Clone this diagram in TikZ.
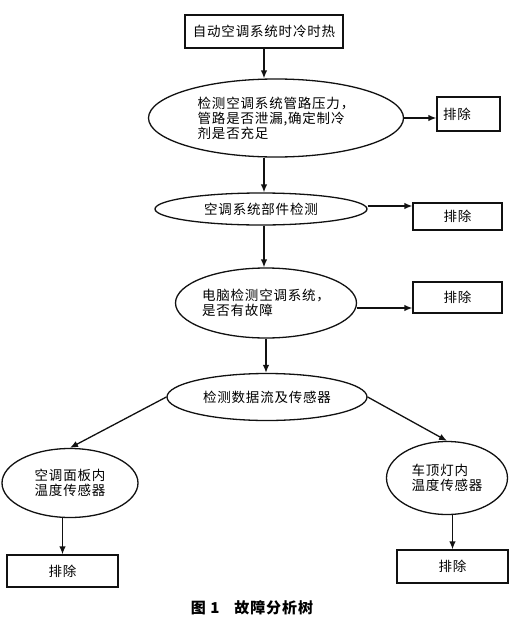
\documentclass[tikz,border=0pt]{standalone}
\usepackage{fontspec}
\setmainfont{Noto Sans CJK SC}[LetterSpace=6]
\usepackage{tikz}
\usetikzlibrary{positioning,calc,shapes.geometric,arrows.meta}
\definecolor{InkBlack}{HTML}{111111}
\newcommand{\cn}{\fontsize{13.5}{15}\selectfont}

\begin{document}
\begin{tikzpicture}[x=1pt, y=-1pt,
    stepbox/.style={draw=InkBlack, line width=1.3pt, rectangle, inner sep=0pt, font=\cn},
    checkoval/.style={draw=InkBlack, line width=1.3pt, ellipse, inner sep=0pt, font=\cn, align=left},
    flow/.style={-{Latex[length=8pt,width=6.5pt]}, draw=InkBlack, line width=1.3pt}]
  \useasboundingbox (0,0) rectangle (516,624);

  % Start box
  \node[stepbox, minimum width=158pt, minimum height=33pt] (start) at (264,31.5) {自动空调系统时冷时热};

  % Checking chain
  \node[checkoval, minimum width=255pt, minimum height=78pt] (pipe) at (276,118)
    {检测空调系统管路压力，\\管路是否泄漏,确定制冷\\剂是否充足};
  \node[checkoval, minimum width=212pt, minimum height=32pt] (parts) at (261,209) {空调系统部件检测};
  \node[checkoval, minimum width=174pt, minimum height=70pt] (ecu) at (266,303)
    {电脑检测空调系统，\\是否有故障};
  \node[checkoval, minimum width=200pt, minimum height=47pt] (data) at (267,397) {检测数据流及传感器};

  % Sensors
  \node[checkoval, minimum width=136pt, minimum height=69pt] (panel) at (70,483) {空调面板内\\温度传感器};
  \node[checkoval, minimum width=121pt, minimum height=73pt] (roof) at (447,478) {车顶灯内\\温度传感器};

  % Fix boxes
  \node[stepbox, minimum width=63pt, minimum height=34pt, text width=51pt, align=left] (fixA) at (468.5,114) {排除};
  \node[stepbox, minimum width=89pt, minimum height=27pt] (fixB) at (457.5,216.5) {排除};
  \node[stepbox, minimum width=89pt, minimum height=31pt] (fixC) at (457.5,297.5) {排除};
  \node[stepbox, minimum width=111pt, minimum height=32pt] (fixL) at (62.5,571) {排除};
  \node[stepbox, minimum width=111pt, minimum height=33pt] (fixR) at (452.5,566.5) {排除};

  % Main flow
  \draw[flow] (start.south) -- (start.south |- pipe.north);
  \draw[flow] (start.south |- pipe.south) -- (start.south |- parts.north);
  \draw[flow] (start.south |- parts.south) -- (start.south |- ecu.north);
  \draw[flow] (ecu.south) -- (ecu.south |- data.north);

  % Side branches
  \draw[flow] (pipe.east) -- (pipe.east -| fixA.west);
  \draw[flow] ([yshift=3pt]parts.east) -- ([yshift=3pt]parts.east -| fixB.west);
  \draw[flow] ([yshift=-5pt]ecu.east) -- ([yshift=-5pt]ecu.east -| fixC.west);
  \draw[flow] (data.west) -- (panel.north);
  \draw[flow] (data.east) -- (roof.north);
  \draw[flow] (fixL.north |- panel.south) -- (fixL.north);
  \draw[flow] (fixR.north |- roof.south) -- (fixR.north);

  % Caption
  \node[font=\fontsize{15}{17}\selectfont\bfseries] (caption) at (252,608) {图 1\quad 故障分析树};
\end{tikzpicture}
\end{document}
